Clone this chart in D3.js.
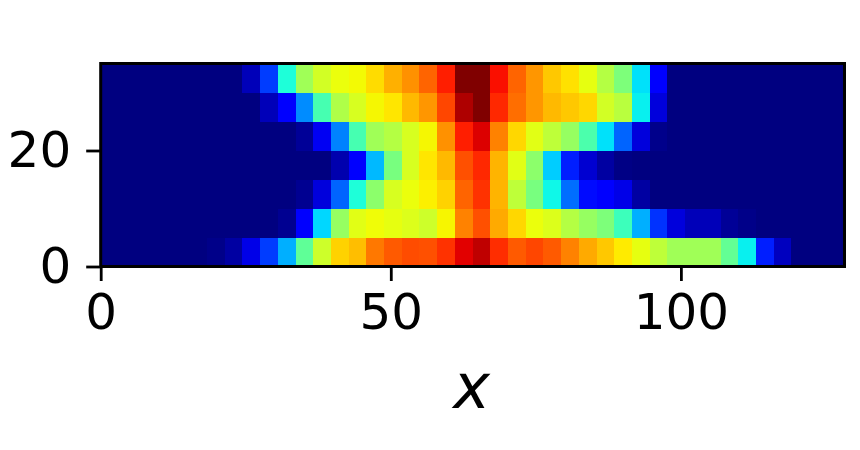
<!DOCTYPE html>
<html>
<head>
<meta charset="utf-8">
<script src="https://cdn.jsdelivr.net/npm/d3@7"></script>
<style>
  body { margin: 0; background: #fff; }
  text { font-family: "DejaVu Sans", sans-serif; fill: #000; }
</style>
</head>
<body>
<svg width="860" height="450"></svg>
<script>
// one list per row of the image, bottom row first, values 0..1 on the jet map
const row0 = [0,0,0,0,0,0,.008,.03,.09,.184,.297,.466,.599,.688,.709,.783,.815,.83,.825,.857,.915,.945,.862,.815,.836,.815,.772,.73,.698,.661,.63,.581,.544,.544,.544,.47,.36,.154,.055,0,0,0];
const row1 = [0,0,0,0,0,0,0,0,0,0,.015,.11,.336,.532,.624,.642,.63,.617,.599,.65,.772,.825,.73,.682,.636,.617,.569,.532,.502,.423,.297,.174,.08,.05,.05,.02,.008,0,0,0,0,0];
const row2 = [0,0,0,0,0,0,0,0,0,0,0,.015,.08,.223,.386,.52,.611,.636,.656,.688,.804,.857,.719,.581,.496,.368,.233,.135,.115,.09,.03,0,0,0,0,0,0,0,0,0,0,0];
const row3 = [0,0,0,0,0,0,0,0,0,0,0,0,0,.04,.115,.306,.496,.611,.666,.714,.825,.868,.719,.624,.52,.326,.154,.07,.03,.005,0,0,0,0,0,0,0,0,0,0,0,0];
const row4 = [0,0,0,0,0,0,0,0,0,0,0,.02,.10,.252,.435,.544,.569,.611,.648,.756,.878,.92,.772,.682,.624,.581,.532,.441,.346,.223,.08,.01,0,0,0,0,0,0,0,0,0,0];
const row5 = [0,0,0,0,0,0,0,0,0,.05,.12,.262,.435,.563,.611,.648,.666,.714,.751,.836,.96,1,.868,.794,.751,.714,.698,.682,.605,.575,.36,.08,0,0,0,0,0,0,0,0,0,0];
const row6 = [0,0,0,0,0,0,0,0,.05,.184,.386,.544,.605,.636,.645,.677,.724,.756,.804,.878,1,1,.894,.804,.751,.698,.672,.63,.569,.502,.346,.11,0,0,0,0,0,0,0,0,0,0];
const rows = [row0, row1, row2, row3, row4, row5, row6];

const xTicks = [0, 50, 100];
const yTicks = [0, 20];
const xLabel = "x";

const xMax = 128.2;
const yMax = 35;

const svg = d3.select("svg");
const margin = { top: 63.5, right: 15.5, bottom: 183.5, left: 100.7 };
const width = +svg.attr("width");
const height = +svg.attr("height");

const xScale = d3.scaleLinear().domain([0, xMax]).range([margin.left, width - margin.right]);
const yScale = d3.scaleLinear().domain([0, yMax]).range([height - margin.bottom, margin.top]);

// jet colormap channels
const red = d3.scaleLinear().domain([0, .35, .66, .89, 1]).range([0, 0, 255, 255, 127.5]).clamp(true);
const green = d3.scaleLinear().domain([0, .125, .375, .64, .91, 1]).range([0, 0, 255, 255, 0, 0]).clamp(true);
const blue = d3.scaleLinear().domain([0, .11, .34, .65, 1]).range([127.5, 255, 255, 0, 0]).clamp(true);
const jet = (v) => `rgb(${red(v)},${green(v)},${blue(v)})`;

const cellW = xMax / row0.length;
const cellH = yMax / rows.length;

const g = svg.append("g");

rows.forEach((row, j) => {
  g.append("g")
    .attr("shape-rendering", "crispEdges")
    .selectAll("rect")
    .data(row)
    .enter()
    .append("rect")
    .attr("x", (d, i) => xScale(i * cellW))
    .attr("y", yScale((j + 1) * cellH))
    .attr("width", cellW * (xScale(1) - xScale(0)))
    .attr("height", cellH * (yScale(0) - yScale(1)))
    .attr("fill", (d) => jet(d));
});

// spines
g.append("rect")
  .attr("x", xScale(0))
  .attr("y", yScale(yMax))
  .attr("width", xScale(xMax) - xScale(0))
  .attr("height", yScale(0) - yScale(yMax))
  .attr("fill", "none")
  .attr("stroke", "#000")
  .attr("stroke-width", 3);

const xAxis = d3.axisBottom(xScale).tickValues(xTicks).tickSize(14.5).tickPadding(12);
const yAxis = d3.axisLeft(yScale).tickValues(yTicks).tickSize(14.5).tickPadding(15);

const xAxisG = g.append("g")
  .attr("transform", `translate(0, ${height - margin.bottom})`)
  .call(xAxis);
const yAxisG = g.append("g")
  .attr("transform", `translate(${margin.left}, 0)`)
  .call(yAxis);

[xAxisG, yAxisG].forEach((a) => {
  a.select(".domain").remove();
  a.selectAll("line").attr("stroke", "#000").attr("stroke-width", 2.8);
  a.selectAll("text").style("font-family", '"DejaVu Sans", sans-serif').style("font-size", "50px").attr("fill", "#000");
});

g.append("text")
  .attr("x", (xScale(0) + xScale(xMax)) / 2 - 1)
  .attr("y", 408)
  .attr("text-anchor", "middle")
  .style("font-size", "62px")
  .style("font-style", "italic")
  .text(xLabel);
</script>
</body>
</html>
